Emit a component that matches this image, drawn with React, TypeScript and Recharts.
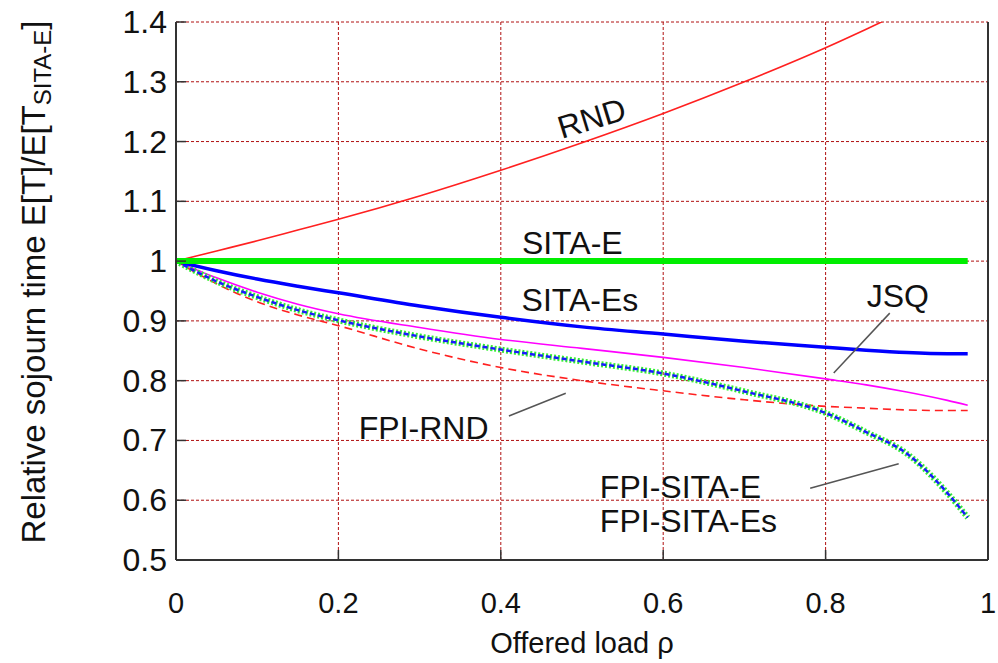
import React from 'react'
import { LineChart, Line, XAxis, YAxis, CartesianGrid, ReferenceLine, ReferenceDot } from 'recharts'

const rho = [0, 0.05, 0.1, 0.15, 0.2, 0.3, 0.4, 0.5, 0.6, 0.7, 0.8, 0.85, 0.9, 0.95, 0.975]

const rnd = [1, 1.017, 1.034, 1.052, 1.07, 1.109, 1.152, 1.198, 1.247, 1.3, 1.357, 1.388, 1.42, 1.452, 1.468]
const sitaE = [1, 1, 1, 1, 1, 1, 1, 1, 1, 1, 1, 1, 1, 1, 1]
const sitaEs = [1, 0.984, 0.97, 0.958, 0.947, 0.925, 0.906, 0.89, 0.878, 0.866, 0.856, 0.851, 0.847, 0.845, 0.845]
const jsq = [1, 0.972, 0.948, 0.928, 0.912, 0.889, 0.869, 0.854, 0.839, 0.822, 0.803, 0.793, 0.781, 0.767, 0.759]
const fpiRnd = [1, 0.962, 0.932, 0.91, 0.892, 0.853, 0.822, 0.8, 0.783, 0.768, 0.757, 0.754, 0.751, 0.75, 0.75]
const fpiSita = [1, 0.966, 0.94, 0.918, 0.901, 0.874, 0.852, 0.832, 0.812, 0.782, 0.746, 0.714, 0.678, 0.612, 0.571]

const xTicks = [0, 0.2, 0.4, 0.6, 0.8, 1]
const yTicks = [0.5, 0.6, 0.7, 0.8, 0.9, 1, 1.1, 1.2, 1.3, 1.4]

// curve annotations: [label, rho, value, anchor, rotation]
const labels: [string, number, number, string, number][] = [
  ['RND', 0.512, 1.239, 'middle', -17],
  ['SITA-E', 0.488, 1.03, 'middle', 0],
  ['SITA-Es', 0.4975, 0.935, 'middle', 0],
  ['JSQ', 0.889, 0.941, 'middle', 0],
  ['FPI-RND', 0.305, 0.721, 'middle', 0],
  ['FPI-SITA-E', 0.522, 0.622, 'start', 0],
  ['FPI-SITA-Es', 0.522, 0.565, 'start', 0],
]

// leader lines from label to curve
const leaders = [
  [[0.81, 0.813], [0.879, 0.913]],
  [[0.41, 0.741], [0.48, 0.779]],
  [[0.781, 0.62], [0.89, 0.661]],
]

const data = rho.map((r, i) => ({
  rho: r,
  rnd: rnd[i],
  sitaE: sitaE[i],
  sitaEs: sitaEs[i],
  jsq: jsq[i],
  fpiRnd: fpiRnd[i],
  fpiSita: fpiSita[i],
}))

const font = '"Liberation Sans", Arial, sans-serif'
const border = '#333'

const LeftTick = (props: any) => {
  const { x, y, payload } = props
  return (
    <g>
      <line x1={x + 9} x2={x + 19} y1={y} y2={y} stroke={border} strokeWidth={1.5} />
      <text x={x} y={y} dy={11} textAnchor="end" fontSize={32} fill="#111" fontFamily={font}>
        {String(payload.value)}
      </text>
    </g>
  )
}

const RightTick = (props: any) => {
  const { x, y } = props
  return <line x1={x - 10} x2={x} y1={y} y2={y} stroke={border} strokeWidth={1.5} />
}

const BottomTick = (props: any) => {
  const { x, y, payload } = props
  return (
    <g>
      <line x1={x} x2={x} y1={y} y2={y - 10} stroke={border} strokeWidth={1.5} />
      <text x={x} y={y + 53} textAnchor="middle" fontSize={29} fill="#111" fontFamily={font}>
        {String(payload.value)}
      </text>
    </g>
  )
}

export default function App() {
  return (
    <div style={{ position: 'absolute', left: 0, top: 0, width: 998, height: 663, background: '#fff' }}>
      <LineChart
        width={998}
        height={663}
        data={data}
        margin={{ top: 22, right: 9, left: 0, bottom: 0 }}
      >
        <CartesianGrid stroke="#b01010" strokeDasharray="3 2" strokeWidth={1} />
        <XAxis
          dataKey="rho"
          type="number"
          domain={[0, 1]}
          ticks={xTicks}
          height={103}
          tickSize={0}
          tickMargin={0}
          tickLine={false}
          axisLine={{ stroke: border, strokeWidth: 2 }}
          tick={<BottomTick />}
          allowDataOverflow
          label={{
            content: (p: any) => (
              <text
                x={p.viewBox.x + p.viewBox.width / 2}
                y={p.viewBox.y + 93}
                textAnchor="middle"
                fontSize={29}
                fill="#111"
                fontFamily={font}
              >
                Offered load ρ
              </text>
            ),
          }}
        />
        <XAxis xAxisId="top" dataKey="rho" type="number" domain={[0, 1]} orientation="top" height={0} tick={false} tickLine={false} axisLine={{ stroke: border, strokeWidth: 2 }} />
        <YAxis
          type="number"
          domain={[0.5, 1.4]}
          ticks={yTicks}
          width={176}
          tickSize={0}
          tickMargin={9}
          tickLine={false}
          axisLine={{ stroke: border, strokeWidth: 2 }}
          tick={<LeftTick />}
          allowDataOverflow
          label={{
            content: () => {
              const cx = 33
              const cy = 282
              return (
                <text
                  x={cx}
                  y={cy}
                  transform={`rotate(-90 ${cx} ${cy})`}
                  textAnchor="middle"
                  dominantBaseline="central"
                  fontSize={33}
                  fill="#111"
                  fontFamily={font}
                >
                  Relative sojourn time E[T]/E[T
                  <tspan fontSize={24} dy={9}>SITA-E</tspan>
                  <tspan dy={-9}>]</tspan>
                </text>
              )
            },
          }}
        />
        <YAxis
          yAxisId="right"
          orientation="right"
          type="number"
          domain={[0.5, 1.4]}
          ticks={yTicks}
          width={1}
          tickSize={0}
          tickMargin={0}
          tickLine={false}
          axisLine={{ stroke: border, strokeWidth: 2 }}
          tick={<RightTick />}
        />

        <Line dataKey="rnd" type="monotone" stroke="#ff2020" strokeWidth={1.6} dot={false} isAnimationActive={false} />
        <Line dataKey="jsq" type="monotone" stroke="#ff00ff" strokeWidth={1.6} dot={false} isAnimationActive={false} />
        <Line dataKey="fpiRnd" type="monotone" stroke="#ff2020" strokeWidth={1.6} strokeDasharray="8 5" dot={false} isAnimationActive={false} />
        <Line dataKey="fpiSita" type="monotone" stroke="#33ee33" strokeWidth={6} strokeDasharray="2 2" dot={false} isAnimationActive={false} />
        <Line dataKey="fpiSita" type="monotone" stroke="#1a1aff" strokeWidth={2.5} strokeDasharray="5 3" dot={false} isAnimationActive={false} />
        <Line dataKey="sitaEs" type="monotone" stroke="#0000ff" strokeWidth={3.5} dot={false} isAnimationActive={false} />
        <Line dataKey="sitaE" type="monotone" stroke="#00ee00" strokeWidth={6} dot={false} isAnimationActive={false} />

        {leaders.map((seg, i) => (
          <ReferenceLine
            key={'l' + i}
            segment={[{ x: seg[0][0], y: seg[0][1] }, { x: seg[1][0], y: seg[1][1] }]}
            stroke="#555"
            strokeWidth={1.5}
          />
        ))}

        {labels.map(([name, x, y, anchor, rot]) => (
          <ReferenceDot
            key={name}
            x={x}
            y={y}
            r={1}
            shape={(p: any) => (
              <text
                x={p.cx}
                y={p.cy}
                transform={rot ? `rotate(${rot} ${p.cx} ${p.cy})` : undefined}
                textAnchor={anchor as any}
                dominantBaseline="central"
                fontSize={32}
                fill="#111"
                fontFamily={font}
              >
                {name}
              </text>
            )}
          />
        ))}
      </LineChart>
    </div>
  )
}
